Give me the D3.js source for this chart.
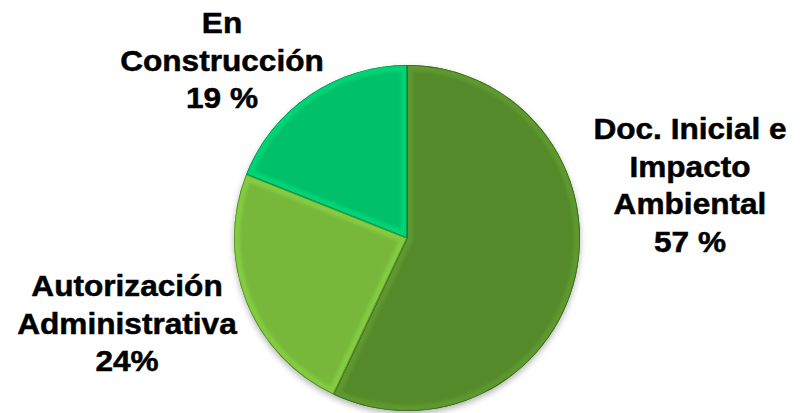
<!DOCTYPE html>
<html>
<head>
<meta charset="utf-8">
<script src="https://cdn.jsdelivr.net/npm/d3@7"></script>
<style>
  body { margin: 0; background: #fff; }
  text { font-family: "Liberation Sans", Arial, sans-serif; font-weight: bold; fill: #000; stroke: #000; stroke-width: 0.5; }
</style>
</head>
<body>
<svg id="chart" width="805" height="413"></svg>
<script>
// data
const categories = ["Doc. Inicial e Impacto Ambiental", "Autorización Administrativa", "En Construcción"];
const values = [57, 24, 19];
const labelLines = [
    ["Doc. Inicial e", "Impacto", "Ambiental"],
    ["Autorización", "Administrativa"],
    ["En", "Construcción"]
];
const percentLabels = ["57 %", "24%", "19 %"];
const colors = ["#558a2b", "#77b83b", "#02c06b"];

// label placement (center x, first baseline)
const labelPos = [[690, 139], [127, 296], [222, 33]];
const lineStep = 37.7;

const cx = 407, cy = 238, radius = 173;

const svg = d3.select("#chart");
const defs = svg.append("defs");

// soft shadow under the pie
const shadow = defs.append("filter")
    .attr("id", "shadow")
    .attr("x", "-20%").attr("y", "-20%")
    .attr("width", "140%").attr("height", "140%");
shadow.append("feGaussianBlur").attr("in", "SourceAlpha").attr("stdDeviation", 3);
shadow.append("feOffset").attr("dx", 0).attr("dy", 3);
shadow.append("feComponentTransfer").append("feFuncA").attr("type", "linear").attr("slope", 0.3);
const merge = shadow.append("feMerge");
merge.append("feMergeNode");
merge.append("feMergeNode").attr("in", "SourceGraphic");

defs.append("filter")
    .attr("id", "soft")
    .append("feGaussianBlur").attr("stdDeviation", 1.6);

const pie = d3.pie().sort(null).value(d => d);
const arc = d3.arc().innerRadius(0).outerRadius(radius);
const arcs = pie(values);

arcs.forEach((d, i) => {
    defs.append("clipPath")
        .attr("id", "clip" + i)
        .attr("transform", `translate(${cx},${cy})`)
        .append("path")
        .attr("d", arc(d));
});

const g = svg.append("g")
    .attr("transform", `translate(${cx},${cy})`);

// base slices with shadow
g.append("g")
    .attr("filter", "url(#shadow)")
    .selectAll("path")
    .data(arcs)
    .enter()
    .append("path")
    .attr("d", arc)
    .attr("fill", (d, i) => colors[i]);

// bevel: light rim inside each slice, clipped to it
const rim = svg.append("g");
arcs.forEach((d, i) => {
    const c = rim.append("g").attr("clip-path", `url(#clip${i})`)
        .append("g").attr("transform", `translate(${cx},${cy})`);
    c.append("path")
        .attr("d", arc(d))
        .attr("fill", "none")
        .attr("stroke", d3.color(colors[i]).brighter(0.6))
        .attr("stroke-opacity", 0.45)
        .attr("stroke-width", 12)
        .attr("filter", "url(#soft)");
    c.append("path")
        .attr("d", arc(d))
        .attr("fill", "none")
        .attr("stroke", d3.color(colors[i]).darker(0.9))
        .attr("stroke-width", 1.6);
});

// labels
const labels = svg.selectAll("g.label")
    .data(categories)
    .enter()
    .append("g")
    .attr("class", "label")
    .attr("transform", (d, i) => `translate(${labelPos[i][0]},${labelPos[i][1]}) scale(1.09,1)`);

labels.append("text")
    .attr("text-anchor", "middle")
    .attr("font-size", 29)
    .selectAll("tspan")
    .data((d, i) => labelLines[i].concat([percentLabels[i]]))
    .enter()
    .append("tspan")
    .attr("x", 0)
    .attr("y", (d, j) => j * lineStep)
    .text(d => d);
</script>
</body>
</html>
